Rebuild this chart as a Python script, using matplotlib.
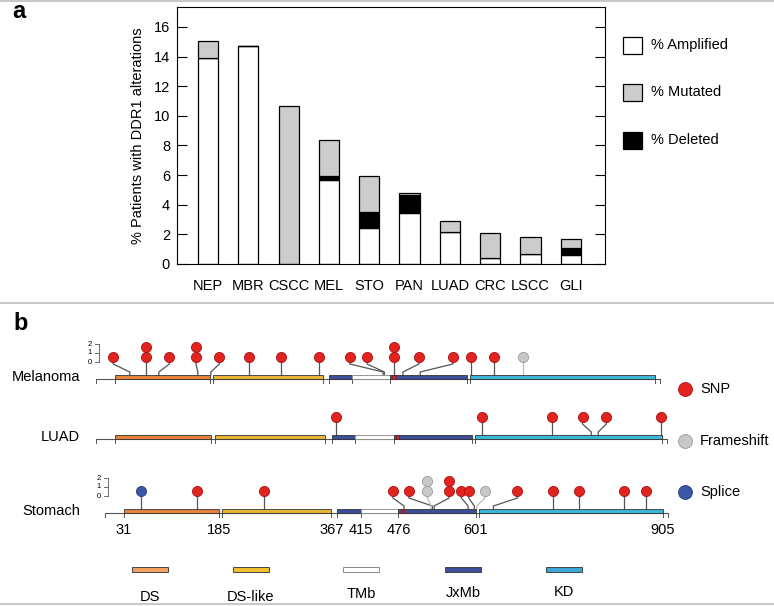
import matplotlib.pyplot as plt
from matplotlib.patches import Rectangle

plt.rcParams['font.family'] = ['Liberation Sans', 'DejaVu Sans']

# ---- panel a: % patients with DDR1 alterations ----
cancers = ['NEP', 'MBR', 'CSCC', 'MEL', 'STO', 'PAN', 'LUAD', 'CRC', 'LSCC', 'GLI']
amplified = [13.9, 14.7, 0.0, 5.68, 2.45, 3.47, 2.14, 0.38, 0.65, 0.63]
deleted = [0.0, 0.0, 0.0, 0.27, 1.06, 1.21, 0.0, 0.0, 0.0, 0.43]
mutated = [1.15, 0.0, 10.7, 2.41, 2.41, 0.14, 0.74, 1.71, 1.15, 0.61]
alt_labels = ['% Amplified', '% Mutated', '% Deleted']
alt_colors = ['white', '#cccccc', 'black']

# ---- panel b: DDR1 protein domains and mutations ----
protein_len = 913
domain_names = ['DS', 'DS-like', 'TMb', 'JxMb', 'KD']
domain_colors = {'DS': '#e8823a', 'DS-like': '#e6b433', 'TMb': 'white',
                 'JxMb': '#3d4f9a', 'KD': '#3cb6d6'}
legend_colors = {'DS': '#f2a15e', 'DS-like': '#f0c030', 'TMb': 'white',
                 'JxMb': '#3d4f9a', 'KD': '#3aa7d8'}
dom_start = [31, 190, 377, 415, 476, 606]
dom_end = [185, 367, 415, 476, 601, 905]
dom_type = ['DS', 'DS-like', 'JxMb', 'TMb', 'JxMb', 'KD']
boundary_ticks = [1, 31, 185, 190, 367, 377, 415, 476, 601, 606, 905, 913]
axis_labels = [31, 185, 367, 415, 476, 601, 905]

variant_types = ['SNP', 'Frameshift', 'Splice']
variant_colors = {'SNP': ('#e2231f', '#a31512'), 'Frameshift': ('#c8c8c8', '#999999'),
                  'Splice': ('#3a56a6', '#283c7a')}

row_names = ['Melanoma', 'LUAD', 'Stomach']

mel_pos = [55, 81, 102, 165, 186, 248, 300, 361, 465, 467, 483, 497, 525, 607, 645, 692]
mel_disp = [28, 81, 119, 162, 200, 248, 300, 361, 411, 439, 483, 523, 578, 607, 645, 692]
mel_count = [1, 2, 1, 2, 1, 1, 1, 1, 1, 1, 2, 1, 1, 1, 1, 1]
mel_type = ['SNP'] * 15 + ['Frameshift']

luad_pos = [384, 617, 730, 792, 803, 903]
luad_disp = [384, 617, 730, 778, 816, 903]
luad_count = [1, 1, 1, 1, 1, 1]
luad_type = ['SNP'] * 6

sto_pos = [59, 149, 258, 485, 531, 529, 534, 589, 599, 603, 630, 727, 768, 841, 877]
sto_disp = [59, 149, 258, 467, 493, 523, 558, 578, 590, 616, 669, 727, 768, 841, 877]
sto_count = [1, 1, 1, 1, 1, 2, 2, 1, 1, 1, 1, 1, 1, 1, 1]
sto_type = ['Splice', 'SNP', 'SNP', 'SNP', 'SNP', 'Frameshift', 'SNP', 'SNP', 'SNP',
            'Frameshift', 'SNP', 'SNP', 'SNP', 'SNP', 'SNP']

W, H = 774, 606
fig = plt.figure(figsize=(W / 100, H / 100), dpi=100)


def px_axes(left, top, width, height):
    return fig.add_axes([left / W, 1 - (top + height) / H, width / W, height / H])


# overlay in pixel coordinates for separators, panel letters and legends
ov = fig.add_axes([0, 0, 1, 1])
ov.set_xlim(0, W)
ov.set_ylim(H, 0)
ov.axis('off')
for ysep in [1, 303, 604]:
    ov.plot([0, W], [ysep, ysep], color='#c8c8c8', lw=1.5)
ov.text(12, 18, 'a', fontsize=17, fontweight='bold')
ov.text(13, 330, 'b', fontsize=17, fontweight='bold')

# panel a bars
ax = px_axes(177, 7, 428, 257)
x = list(range(len(cancers)))
bottom2 = [a + d for a, d in zip(amplified, deleted)]
ax.bar(x, amplified, width=0.5, color=alt_colors[0], edgecolor='black', lw=0.9)
ax.bar(x, deleted, width=0.5, bottom=amplified, color=alt_colors[2], edgecolor='black', lw=0.9)
ax.bar(x, mutated, width=0.5, bottom=bottom2, color=alt_colors[1], edgecolor='black', lw=0.9)
ax.set_xlim(-0.77, 9.85)
ax.set_ylim(0, 17.35)
ax.set_yticks(range(0, 17, 2))
ax.set_xticks(x)
ax.set_xticklabels(cancers)
ax.tick_params(axis='x', length=0, pad=11, labelsize=10.5)
ax.tick_params(axis='y', direction='in', length=7, right=True, labelsize=10.5, pad=5)
ax.set_ylabel('% Patients with DDR1 alterations', fontsize=10.5, labelpad=6)

# panel a legend
for i, (lab, col) in enumerate(zip(alt_labels, alt_colors)):
    yc = 45 + 47.5 * i
    ov.add_patch(Rectangle((623, yc - 8.5), 19, 17, facecolor=col, edgecolor='black', lw=0.9))
    ov.text(651, yc, lab, fontsize=10.5, va='center')

# panel b rows: (x of aa 31, x of aa 905, baseline y) in pixels
rows = [(115, 655, 379), (115, 662, 439), (124, 663, 513)]
row_data = [(mel_pos, mel_disp, mel_count, mel_type),
            (luad_pos, luad_disp, luad_count, luad_type),
            (sto_pos, sto_disp, sto_count, sto_type)]
show_scale = [True, False, True]

for r, ((x31, x905, base), (pos, disp, cnt, typ)) in enumerate(zip(rows, row_data)):
    s = (x905 - x31) / (905 - 31)
    x0, x1 = -40, 930
    left = x31 - (31 - x0) * s
    rax = px_axes(left, base - 40, (x1 - x0) * s, 66)
    rax.set_xlim(x0, x1)
    rax.set_ylim(-26, 40)
    rax.axis('off')

    rax.plot([1, protein_len], [0, 0], color='#555555', lw=0.8, zorder=1)
    for t in boundary_ticks:
        rax.plot([t, t], [0, -4], color='#555555', lw=0.7, zorder=1)
    for st, en, dt in zip(dom_start, dom_end, dom_type):
        ec = '#888888' if dt == 'TMb' else '#333333'
        rax.add_patch(Rectangle((st, 0), en - st, 4, facecolor=domain_colors[dt],
                                edgecolor=ec, lw=0.6, zorder=2))
    rax.add_patch(Rectangle((480, 0), 5, 4, facecolor='#b03030', edgecolor='#7a1010',
                            lw=0.4, zorder=3))

    for p, d, c, t in zip(pos, disp, cnt, typ):
        stem = '#bbbbbb' if t == 'Frameshift' else '#555555'
        if p == d:
            rax.plot([p, p], [4, 22], color=stem, lw=0.9, zorder=1)
        else:
            rax.plot([p, p, d, d], [4, 7, 15, 22], color=stem, lw=0.9, zorder=1)
        fc, ec = variant_colors[t]
        for k in range(c):
            rax.plot(d, 22 + 10 * k, 'o', ms=7.3, mfc=fc, mec=ec, mew=0.6, zorder=4)

    if show_scale[r]:
        rax.plot([5, 5], [17, 35], color='#555555', lw=0.6)
        for lev, yy in enumerate([17, 26, 35]):
            rax.plot([-1, 5], [yy, yy], color='#555555', lw=0.6)
            rax.text(-10, yy, str(lev), fontsize=5.5, ha='center', va='center')

    if r == 2:
        for a in axis_labels:
            rax.text(a, -17, str(a), fontsize=10.5, ha='center', va='center')

    ov.text(80, base - 2, row_names[r], fontsize=10.5, ha='right', va='center')

# variant legend
for i, vt in enumerate(variant_types):
    yc = [389, 441, 492][i]
    fc, ec = variant_colors[vt]
    ov.plot(685, yc, 'o', ms=10, mfc=fc, mec=ec, mew=0.6)
    ov.text(700, yc, vt, fontsize=10.5, va='center')

# domain legend
leg_x = [132, 233, 343, 445, 546]
leg_ty = [597, 597, 594, 593, 592]
for name, lx, ty in zip(domain_names, leg_x, leg_ty):
    ec = '#888888' if name == 'TMb' else '#444444'
    ov.add_patch(Rectangle((lx, 567), 36, 5, facecolor=legend_colors[name], edgecolor=ec, lw=0.7))
    ov.text(lx + 18, ty, name, fontsize=10.5, ha='center', va='center')

fig.savefig('out.png', dpi=100)
